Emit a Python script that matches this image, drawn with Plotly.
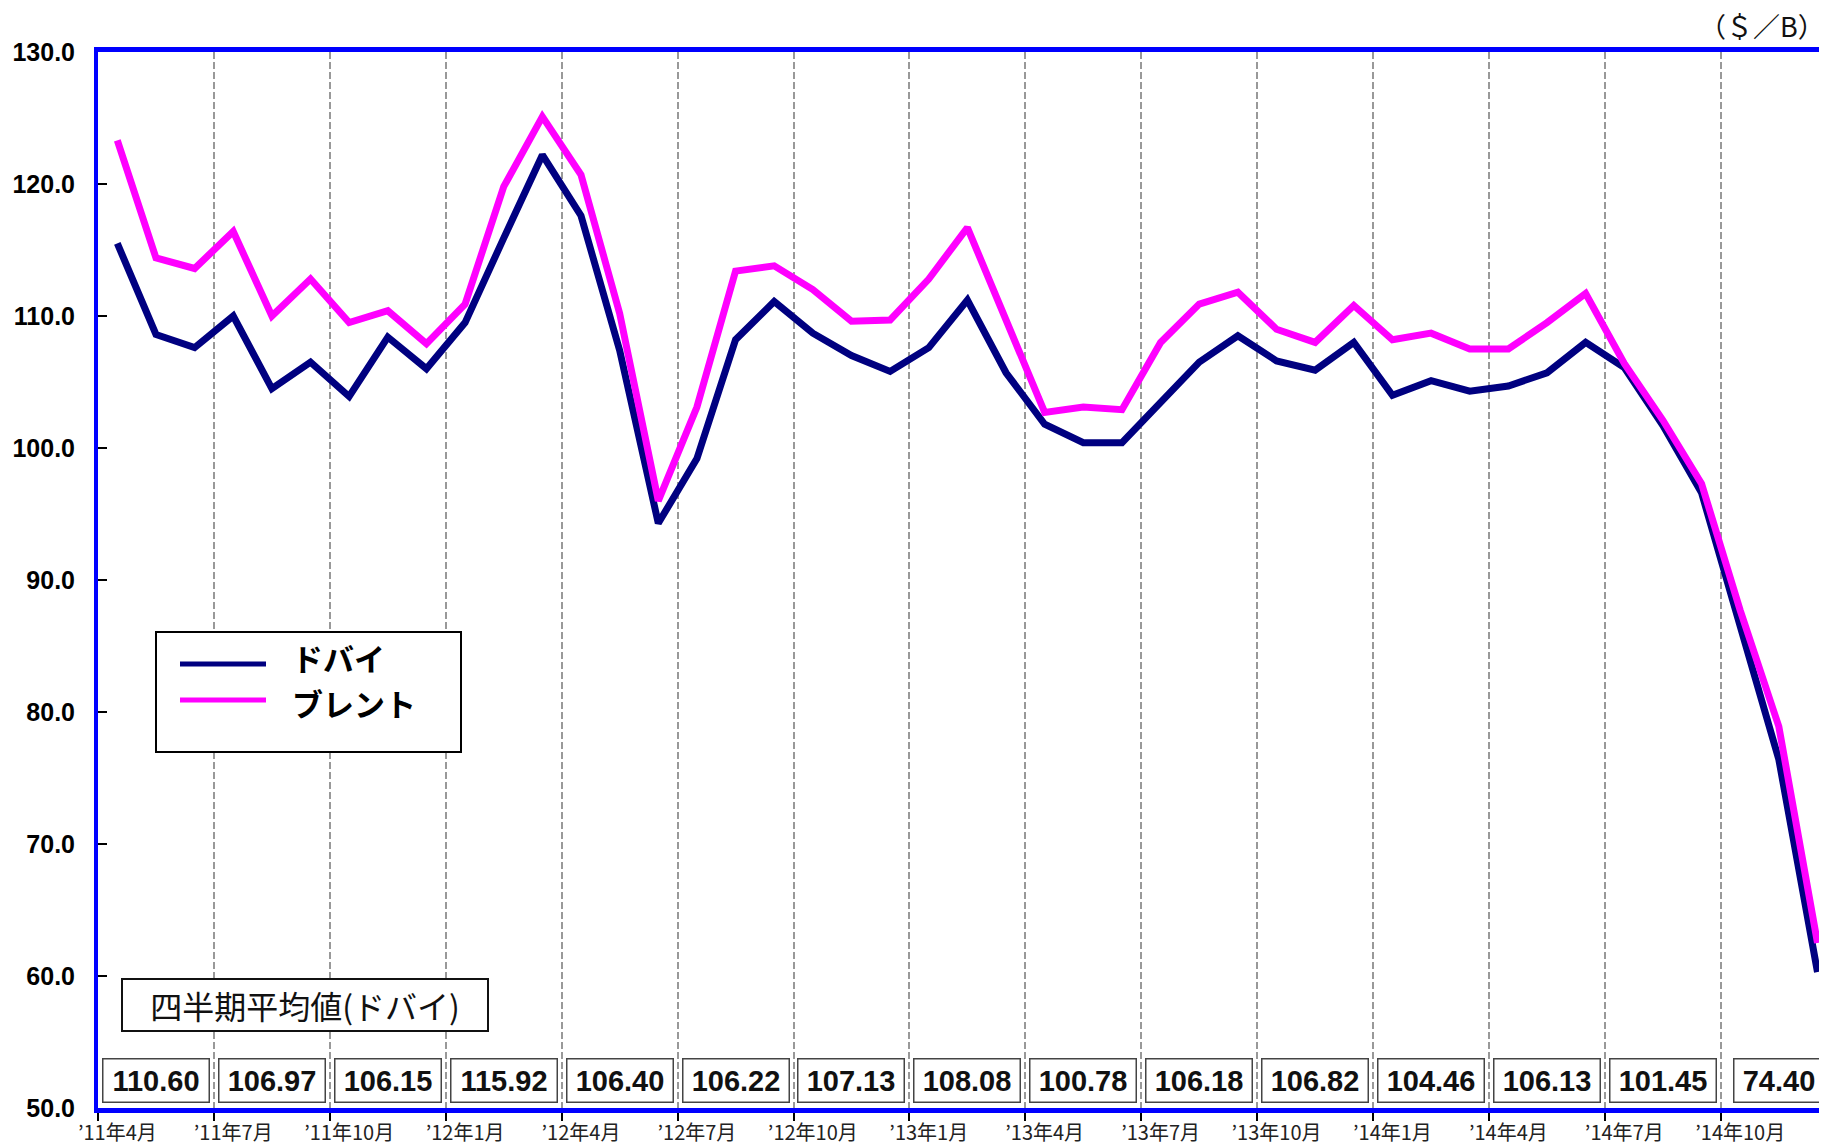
import plotly.graph_objects as go

# ---------------- data ----------------
months = [
    "’11年4月", "’11年5月", "’11年6月", "’11年7月", "’11年8月", "’11年9月",
    "’11年10月", "’11年11月", "’11年12月", "’12年1月", "’12年2月", "’12年3月",
    "’12年4月", "’12年5月", "’12年6月", "’12年7月", "’12年8月", "’12年9月",
    "’12年10月", "’12年11月", "’12年12月", "’13年1月", "’13年2月", "’13年3月",
    "’13年4月", "’13年5月", "’13年6月", "’13年7月", "’13年8月", "’13年9月",
    "’13年10月", "’13年11月", "’13年12月", "’14年1月", "’14年2月", "’14年3月",
    "’14年4月", "’14年5月", "’14年6月", "’14年7月", "’14年8月", "’14年9月",
    "’14年10月", "’14年11月", "’14年12月",
]

dubai = [
    115.5, 108.6, 107.6, 110.0, 104.5, 106.5,
    103.9, 108.4, 106.0, 109.5, 115.9, 122.2,
    117.6, 107.4, 94.3, 99.2, 108.2, 111.1,
    108.7, 107.0, 105.8, 107.6, 111.2, 105.7,
    101.8, 100.4, 100.4, 103.5, 106.5, 108.5,
    106.6, 105.9, 108.0, 104.0, 105.1, 104.3,
    104.7, 105.7, 108.0, 106.1, 101.7, 96.6,
    86.5, 76.4, 60.3,
]

brent = [
    123.3, 114.4, 113.6, 116.4, 110.0, 112.8,
    109.5, 110.4, 107.9, 110.9, 119.8, 125.1,
    120.7, 110.2, 96.0, 103.1, 113.4, 113.8,
    112.0, 109.6, 109.7, 112.8, 116.7, 109.6,
    102.7, 103.1, 102.9, 108.0, 110.9, 111.8,
    109.0, 108.0, 110.8, 108.2, 108.7, 107.5,
    107.5, 109.5, 111.7, 106.4, 102.1, 97.3,
    87.7, 78.9, 62.5,
]

quarter_avg_dubai = [
    "110.60", "106.97", "106.15", "115.92", "106.40", "106.22", "107.13",
    "108.08", "100.78", "106.18", "106.82", "104.46", "106.13", "101.45", "74.40",
]

y_ticks = [50, 60, 70, 80, 90, 100, 110, 120, 130]

series_names = ["ドバイ", "ブレント"]
title_text = "(1)原油価格(ドバイ・ブレント)"
unit_text = "（＄／B）"
box_title = "四半期平均値(ドバイ)"

# ---------------- styles / layout helpers ----------------
series_colors = ["#000080", "#FF00FF"]
OFF = 8                      # page body margin offset of the figure
W, H = 1827 - OFF, 1145 - OFF
ML, MR, MT, MB = 90, 0, 44, 37
PW, PH = W - ML - MR, H - MT - MB
MONTH_PX = 38.64


def px_x(p):
    """screen x pixel -> paper x"""
    return (p - OFF - ML) / PW


def px_y(p):
    """screen y pixel -> paper y"""
    return (H - MB - (p - OFF)) / PH


x_idx = list(range(len(months)))
jp = "Noto Sans CJK JP, sans-serif"

fig = go.Figure()
for name, vals, col in zip(series_names, [dubai, brent], series_colors):
    fig.add_trace(go.Scatter(
        x=x_idx, y=vals, mode="lines", name=name,
        line=dict(color=col, width=7), cliponaxis=True, showlegend=False,
    ))

annotations = []
shapes = []

# quarterly average boxes
for k, v in enumerate(quarter_avg_dubai):
    annotations.append(dict(
        x=x_idx[3 * k + 1], xref="x", y=px_y(1080), yref="paper",
        text=f"<b>{v}</b>", showarrow=False,
        font=dict(family="Liberation Sans, Arial, sans-serif", size=29, color="#111"),
        bgcolor="white", bordercolor="#444", borderwidth=1.5, borderpad=3,
        width=16 * len(v) + 3, height=36,
        xanchor="center", yanchor="middle",
    ))

annotations.append(dict(
    x=px_x(305), xref="paper", y=px_y(1005), yref="paper",
    text=box_title, showarrow=False,
    font=dict(family=jp, size=32, color="#111"),
    bgcolor="white", bordercolor="#111", borderwidth=2, borderpad=2,
    width=360, height=46, xanchor="center", yanchor="middle",
))

annotations.append(dict(
    x=1.0, xref="paper", y=px_y(25), yref="paper",
    text=unit_text, showarrow=False,
    font=dict(family=jp, size=27, color="#111"),
    height=30, xanchor="right", yanchor="middle",
))

annotations.append(dict(
    x=px_x(10), xref="paper", y=px_y(13), yref="paper",
    text=f"<b>{title_text}</b>", showarrow=False,
    font=dict(family=jp, size=30, color="#111"),
    xanchor="left", yanchor="bottom",
))

# legend box (drawn manually to match the long line samples)
shapes.append(dict(
    type="rect", xref="paper", yref="paper",
    x0=px_x(156), x1=px_x(461), y0=px_y(752), y1=px_y(632),
    line=dict(color="black", width=2), fillcolor="white", layer="above",
))
for i, (name, col) in enumerate(zip(series_names, series_colors)):
    yl = 664 + 36 * i
    yt = 657 + 45 * i
    shapes.append(dict(
        type="line", xref="paper", yref="paper",
        x0=px_x(180), x1=px_x(266), y0=px_y(yl), y1=px_y(yl),
        line=dict(color=col, width=5), layer="above",
    ))
    annotations.append(dict(
        x=px_x(290), xref="paper", y=px_y(yt), yref="paper",
        text=f"<b>{name}</b>", showarrow=False,
        font=dict(family=jp, size=31, color="black"),
        height=42, xanchor="left", yanchor="middle",
    ))

fig.update_layout(
    width=W, height=H,
    margin=dict(l=ML, r=MR, t=MT, b=MB, autoexpand=False),
    paper_bgcolor="white", plot_bgcolor="white",
    showlegend=False,
    annotations=annotations,
    shapes=shapes,
    xaxis=dict(
        range=[-0.5, -0.5 + PW / MONTH_PX],
        tickmode="array", tickvals=x_idx[::3], ticktext=months[::3],
        ticks="", showgrid=False, zeroline=False, automargin=False,
        tickfont=dict(family=jp, size=20, color="#222"),
        ticklabelstandoff=3,
        showline=True, linecolor="#0000FF", linewidth=5, mirror=True,
        minor=dict(
            tickmode="linear", tick0=2.5, dtick=3,
            ticks="outside", ticklen=8, tickcolor="black", tickwidth=1.5,
            showgrid=True, gridcolor="#999999", gridwidth=2, griddash="7px,3px",
        ),
    ),
    yaxis=dict(
        range=[50, 130], tickmode="array", tickvals=y_ticks,
        ticktext=[f"{t:.1f}" for t in y_ticks],
        ticks="inside", ticklen=9, tickwidth=2, tickcolor="black",
        showgrid=False, zeroline=False, automargin=False,
        tickfont=dict(family="Liberation Sans, Arial, sans-serif", size=25,
                      color="black", weight="bold"),
        ticklabelstandoff=14,
        showline=True, linecolor="#0000FF", linewidth=4,
    ),
)

fig.write_html("out.html")
